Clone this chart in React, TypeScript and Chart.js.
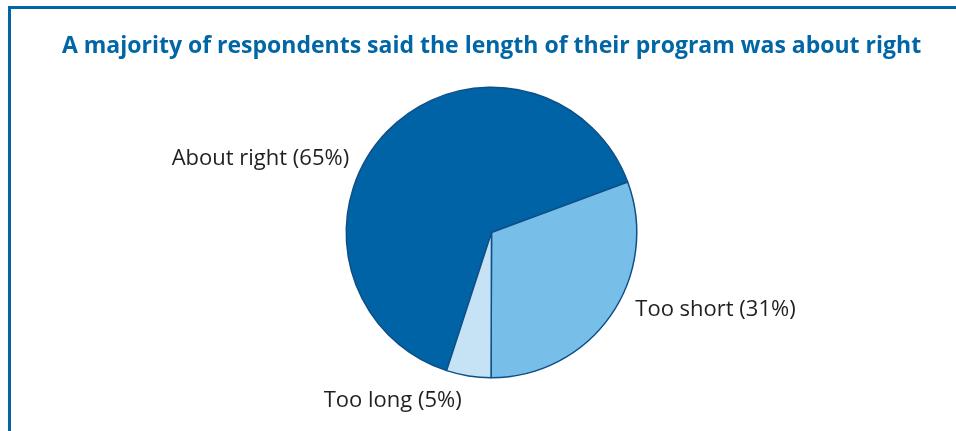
import React, { useEffect, useRef } from "react";
import { Chart, registerables } from "chart.js";

Chart.register(...registerables);

const TITLE = "A majority of respondents said the length of their program was about right";
const categories = ["About right", "Too short", "Too long"];
const values = [65, 31, 5];
const colors = ["#0063a6", "#77bfe9", "#c6e2f5"];

const labelPlugin = {
  id: "sliceLabels",
  afterDatasetsDraw(chart: any, _args: any, opts: any) {
    const ctx = chart.ctx;
    const meta = chart.getDatasetMeta(0);
    ctx.save();
    ctx.font = opts.font;
    ctx.fillStyle = opts.color;
    ctx.textBaseline = "middle";
    meta.data.forEach((arc: any, i: number) => {
      const a = opts.anchors[i];
      const r = arc.outerRadius;
      const x = arc.x + a.dx * r;
      const y = arc.y + a.dy * r;
      ctx.textAlign = a.align;
      ctx.fillText(`${categories[i]} (${values[i]}%)`, x, y);
    });
    ctx.restore();
  },
};

export default function App() {
  const ref = useRef<HTMLCanvasElement>(null);
  useEffect(() => {
    document.body.style.overflow = "hidden";
    const chart = new Chart(ref.current!, {
      type: "pie",
      data: {
        labels: categories,
        datasets: [
          {
            data: values,
            backgroundColor: colors,
            borderColor: "#0d4f87",
            borderWidth: 1.5,
          },
        ],
      },
      options: {
        animation: false,
        responsive: false,
        rotation: -162,
        layout: { padding: { top: 0, left: 27, right: 0, bottom: 52.5 } },
        plugins: {
          legend: { display: false },
          tooltip: { enabled: false },
          title: {
            display: true,
            text: TITLE,
            color: "#0066a6",
            font: { family: "'Open Sans', sans-serif", size: 23, weight: "bold" },
            padding: { top: 32.5, bottom: 26.4 },
          },
          sliceLabels: {
            font: "22px 'Open Sans', sans-serif",
            color: "#231f20",
            anchors: [
              { dx: -0.98, dy: -0.507, align: "right" },
              { dx: 0.99, dy: 0.535, align: "left" },
              { dx: -0.68, dy: 1.16, align: "center" },
            ],
          },
        } as any,
      },
      plugins: [labelPlugin],
    });
    return () => chart.destroy();
  }, []);
  return (
    <div>
      <div
        style={{
          position: "fixed",
          left: 8,
          top: 6,
          right: -10,
          bottom: -10,
          borderTop: "3px solid #0066a6",
          borderLeft: "3px solid #0066a6",
        }}
      />
      <canvas
        ref={ref}
        width={956}
        height={431}
        style={{ position: "fixed", left: 0, top: 0, width: 956, height: 431 }}
      />
    </div>
  );
}
